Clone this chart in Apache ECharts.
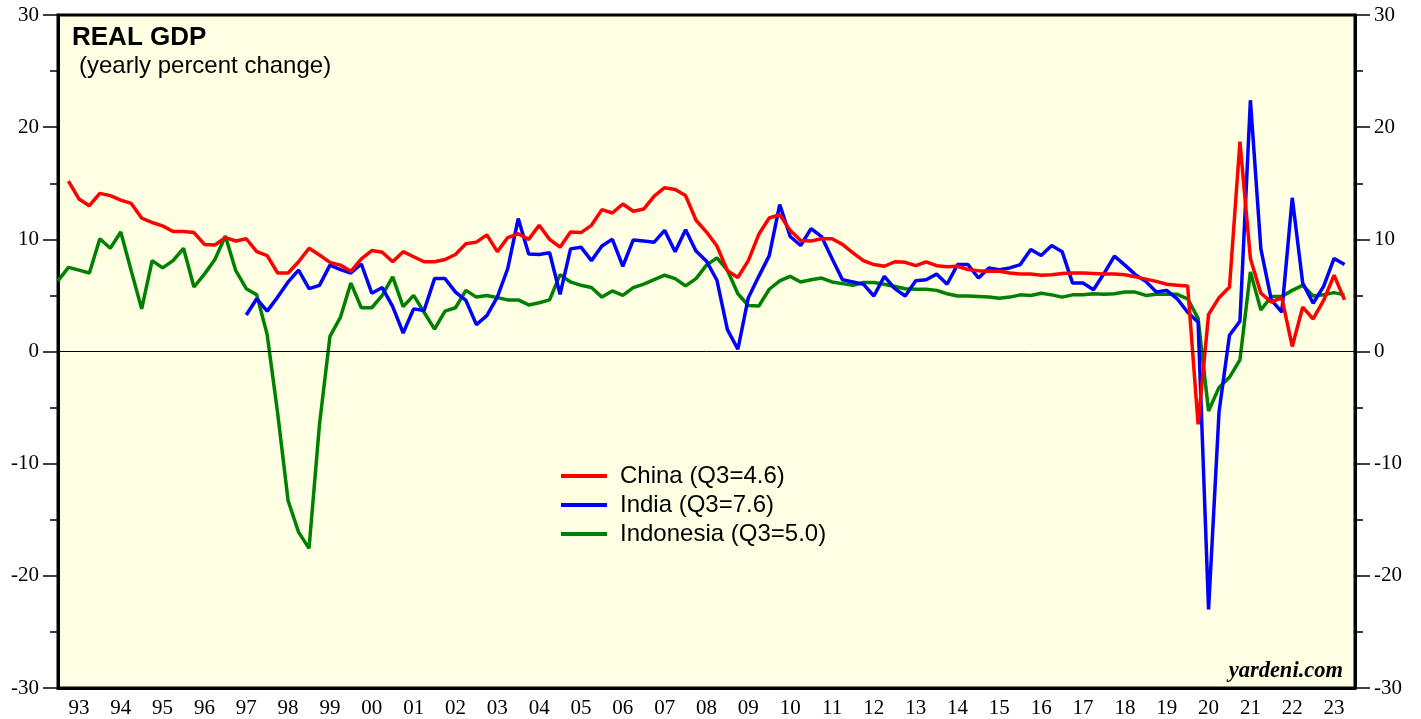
<!DOCTYPE html>
<html>
<head>
<meta charset="utf-8">
<script src="https://cdn.jsdelivr.net/npm/echarts@6/dist/echarts.min.js"></script>
<style>
  html, body { margin: 0; padding: 0; background: #fff; }
  #grafico { width: 1421px; height: 719px; }
</style>
</head>
<body>
<div id="grafico"></div>
<script>
// Datos: crecimiento anual del PIB real, trimestral (fin de trimestre)
const etiquetasAnios = ['93','94','95','96','97','98','99','00','01','02','03','04','05','06','07','08',
  '09','10','11','12','13','14','15','16','17','18','19','20','21','22','23'];

// China desde 1993 T1
const inicioChina = 1;
const china = [15.2, 13.6, 13.0, 14.1, 13.9, 13.5, 13.2, 11.9, 11.5, 11.2,
  10.7, 10.7, 10.6, 9.55, 9.5, 10.15, 9.85, 10.05, 8.9, 8.55,
  7.0, 7.0, 8.0, 9.2, 8.6, 7.95, 7.7, 7.15, 8.25, 9.0,
  8.85, 8.0, 8.9, 8.45, 8.0, 8.0, 8.2, 8.65, 9.6, 9.75,
  10.4, 8.9, 10.15, 10.5, 10.0, 11.25, 10.0, 9.3, 10.65, 10.6,
  11.25, 12.65, 12.35, 13.15, 12.5, 12.7, 13.85, 14.6, 14.45, 13.9,
  11.7, 10.65, 9.4, 7.2, 6.6, 8.1, 10.45, 11.9, 12.2, 10.8,
  9.9, 9.85, 10.05, 10.05, 9.55, 8.8, 8.1, 7.75, 7.6, 8.0,
  7.95, 7.65, 8.0, 7.65, 7.55, 7.6, 7.3, 7.2, 7.15, 7.15,
  7.0, 6.9, 6.9, 6.8, 6.85, 6.95, 7.0, 7.0, 6.95, 6.9,
  6.9, 6.85, 6.65, 6.45, 6.25, 6.0, 5.9, 5.85, -6.5, 3.3,
  4.8, 5.75, 18.7, 8.3, 5.2, 4.4, 4.8, 0.45, 3.95, 2.9,
  4.55, 6.8, 4.6];

// India desde 1997 T2
const inicioIndia = 18;
const india = [3.25, 4.7, 3.6,
  4.85, 6.2, 7.25, 5.6, 5.9, 7.7, 7.3, 7.0, 7.8, 5.2,
  5.7, 4.0, 1.65, 3.8, 3.65, 6.5, 6.5, 5.3, 4.55, 2.4,
  3.2, 4.85, 7.4, 11.85, 8.7, 8.65, 8.8, 5.1, 9.15, 9.3,
  8.1, 9.4, 10.0, 7.6, 9.95, 9.85, 9.75, 10.8, 8.9, 10.85,
  8.95, 8.05, 6.35, 1.95, 0.2, 4.8, 6.7, 8.55, 13.1, 10.25,
  9.45, 10.95, 10.25, 8.3, 6.4, 6.2, 6.0, 4.95, 6.7, 5.6,
  4.95, 6.3, 6.4, 6.9, 6.0, 7.75, 7.75, 6.55, 7.45, 7.3,
  7.45, 7.75, 9.1, 8.55, 9.45, 8.9, 6.1, 6.1, 5.5, 6.95,
  8.5, 7.7, 6.85, 6.25, 5.3, 5.45, 4.7, 3.5, 2.6, -23.0,
  -5.4, 1.45, 2.7, 22.4, 9.15, 4.6, 3.5, 13.7, 6.1, 4.3,
  5.8, 8.3, 7.75];

// Indonesia desde 1992 T4
const inicioIndonesia = 0;
const indonesia = [6.3, 7.5, 7.25, 7.0, 10.05, 9.2, 10.65, 7.2, 3.8, 8.1,
  7.45, 8.1, 9.2, 5.75, 6.9, 8.2, 10.3, 7.2, 5.6, 5.05,
  1.5, -5.5, -13.3, -16.1, -17.55, -6.5, 1.35, 3.05, 6.1, 3.9,
  3.9, 5.0, 6.65, 4.0, 5.0, 3.5, 2.0, 3.6, 3.9, 5.45,
  4.85, 5.0, 4.8, 4.6, 4.6, 4.15, 4.35, 4.6, 6.85, 6.2,
  5.9, 5.7, 4.85, 5.4, 5.0, 5.7, 6.0, 6.4, 6.8, 6.5,
  5.85, 6.5, 7.7, 8.35, 7.25, 5.15, 4.1, 4.05, 5.55, 6.3,
  6.7, 6.2, 6.4, 6.55, 6.2, 6.05, 5.9, 6.15, 6.15, 6.0,
  5.8, 5.6, 5.55, 5.55, 5.45, 5.15, 4.95, 4.95, 4.9, 4.85,
  4.75, 4.85, 5.05, 5.0, 5.2, 5.05, 4.85, 5.05, 5.05, 5.15,
  5.1, 5.15, 5.3, 5.3, 5.0, 5.1, 5.1, 5.1, 4.7, 2.95,
  -5.3, -3.2, -2.3, -0.75, 7.1, 3.7, 4.9, 4.9, 5.45, 5.9,
  4.95, 5.05, 5.25, 5.05];

// PROCESAMIENTO: trimestre -> fecha decimal (fin de trimestre)
function procesarSerie(valores, inicio) {
    return valores.map((v, i) => [1993 + (inicio + i) * 0.25, v]);
}

function crearGrafico() {
    const serif = 'Liberation Serif';
    const sans = 'Liberation Sans';
    const ejeY = (pos) => ({
        type: 'value',
        min: -30,
        max: 30,
        interval: 10,
        position: pos,
        axisLine: { show: true, lineStyle: { color: '#000', width: 3 } },
        axisTick: { show: true, length: 15, lineStyle: { color: '#000', width: 1.5 } },
        minorTick: { show: true, splitNumber: 2, length: 8, lineStyle: { color: '#000', width: 1.5 } },
        axisLabel: { color: '#000', fontFamily: serif, fontSize: 21, margin: 19 },
        splitLine: { show: false }
    });
    const linea = (nombre, datos, color, extra) => Object.assign({
        name: nombre,
        type: 'line',
        xAxisIndex: 1,
        yAxisIndex: 0,
        symbol: 'none',
        clip: true,
        lineStyle: { color: color, width: 3.5 },
        itemStyle: { color: color },
        data: datos
    }, extra || {});

    return {
        animation: false,
        backgroundColor: '#fff',
        grid: {
            left: 58, right: 66, top: 15, bottom: 31,
            show: true, backgroundColor: '#FFFFE3', borderColor: '#000', borderWidth: 3
        },
        xAxis: [
            {
                type: 'category',
                data: etiquetasAnios,
                boundaryGap: true,
                position: 'bottom',
                axisLine: { onZero: false, lineStyle: { color: '#000', width: 3 } },
                axisTick: { length: 15, lineStyle: { color: '#000', width: 2 } },
                axisLabel: { color: '#000', fontFamily: serif, fontSize: 21, margin: 10, interval: 0 }
            },
            { type: 'value', min: 1993, max: 2024, show: false }
        ],
        yAxis: [ejeY('left'), ejeY('right')],
        legend: {
            left: 556,
            top: 459,
            orient: 'vertical',
            icon: 'rect',
            itemWidth: 46,
            itemHeight: 4,
            itemGap: 5,
            textStyle: { fontFamily: sans, fontSize: 24, color: '#000', lineHeight: 24, padding: [0, 0, 0, 8] },
            data: ['China (Q3=4.6)', 'India (Q3=7.6)', 'Indonesia (Q3=5.0)']
        },
        graphic: [
            { type: 'text', left: 72, top: 25, style: { text: 'REAL GDP', font: 'bold 26px "Liberation Sans"', fill: '#000' } },
            { type: 'text', left: 79, top: 54, style: { text: '(yearly percent change)', font: '24px "Liberation Sans"', fill: '#000' } },
            { type: 'text', right: 78, top: 660, style: { text: 'yardeni.com', font: 'italic bold 22.5px "Liberation Serif"', fill: '#000' } }
        ],
        series: [
            linea('Indonesia (Q3=5.0)', procesarSerie(indonesia, inicioIndonesia), '#008000', {
                markLine: {
                    silent: true,
                    symbol: 'none',
                    label: { show: false },
                    lineStyle: { color: '#000', width: 1, type: 'solid' },
                    data: [{ yAxis: 0 }]
                }
            }),
            linea('India (Q3=7.6)', procesarSerie(india, inicioIndia), '#0000FF'),
            linea('China (Q3=4.6)', procesarSerie(china, inicioChina), '#FF0000')
        ]
    };
}

function iniciar() {
    const chartDom = document.getElementById('grafico');
    const myChart = echarts.init(chartDom, null, { renderer: 'canvas' });
    myChart.setOption(crearGrafico());
}

iniciar();
</script>
</body>
</html>
